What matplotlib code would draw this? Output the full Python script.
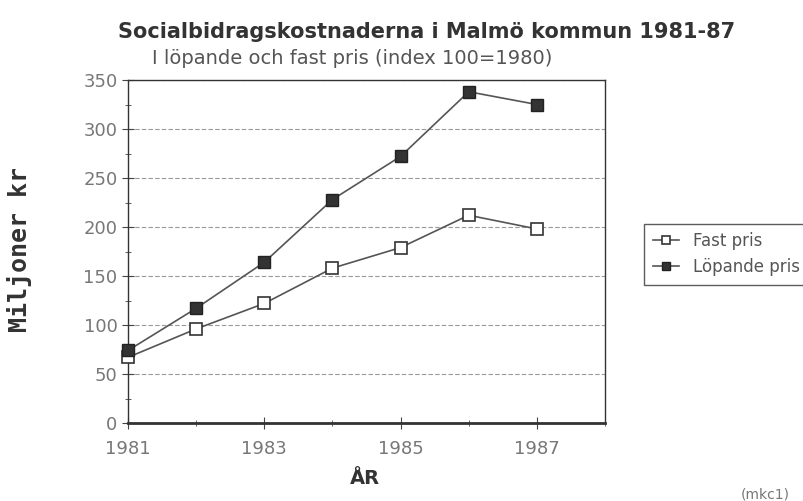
import matplotlib
matplotlib.use('Agg')
import matplotlib.pyplot as plt
from matplotlib.ticker import MultipleLocator

# Data (Miljoner kr)
years = [1981, 1982, 1983, 1984, 1985, 1986, 1987]
fast_pris = [67, 96, 122, 158, 179, 212, 198]
lopande_pris = [74, 117, 164, 228, 272, 338, 325]

fig = plt.figure(figsize=(8.04, 5.01), dpi=100)
ax = fig.add_axes([128 / 804, 1 - 423 / 501, (605 - 128) / 804, (423 - 80) / 501])

ax.plot(years, fast_pris, color='#555555', linewidth=1.2, marker='s', markersize=8,
        markerfacecolor='white', markeredgecolor='#333333', markeredgewidth=1.2,
        label='Fast pris', clip_on=False, zorder=3)
ax.plot(years, lopande_pris, color='#555555', linewidth=1.2, marker='s', markersize=8,
        markerfacecolor='#333333', markeredgecolor='#222222',
        label='Löpande pris', clip_on=False, zorder=4)

ax.set_xlim(1981, 1988)
ax.set_ylim(0, 350)
ax.set_xticks([1981, 1983, 1985, 1987])
ax.xaxis.set_minor_locator(MultipleLocator(1))
ax.yaxis.set_major_locator(MultipleLocator(50))
ax.yaxis.set_minor_locator(MultipleLocator(25))
ax.grid(axis='y', which='major', color='#999999', linestyle=(0, (4, 2)), linewidth=0.8)
ax.tick_params(axis='both', which='both', direction='inout', colors='#444444',
               labelcolor='#777777', labelsize=13)
ax.tick_params(axis='both', which='major', length=8)
ax.tick_params(axis='both', which='minor', length=5)
ax.tick_params(axis='x', which='major', pad=8)
for s in ax.spines.values():
    s.set_color('#333333')
    s.set_linewidth(1.0)
ax.spines['bottom'].set_linewidth(2)

fig.text(118 / 804, 1 - 32 / 501, 'Socialbidragskostnaderna i Malmö kommun 1981-87',
         fontsize=15, fontweight='bold', color='#333333', va='center', ha='left')
fig.text(352 / 804, 1 - 58 / 501, 'I löpande och fast pris (index 100=1980)',
         fontsize=14, color='#555555', va='center', ha='center')
fig.text(20 / 804, 1 - 250 / 501, 'Miljoner kr', rotation=90, fontsize=18, fontweight='bold',
         color='#333333', va='center', ha='center', family='DejaVu Sans Mono')
fig.text(365 / 804, 1 - 478 / 501, 'ÅR', fontsize=14, fontweight='bold', color='#333333',
         va='center', ha='center')
fig.text(765 / 804, 1 - 494 / 501, '(mkc1)', fontsize=10, color='#777777', va='center', ha='center')

leg = fig.legend(loc='center left', bbox_to_anchor=(636 / 804, 1 - 254 / 501), fontsize=12,
                 frameon=True, fancybox=False, edgecolor='#333333', labelcolor='#555555',
                 handlelength=1.6, markerscale=0.8, borderpad=0.5)
leg.get_frame().set_linewidth(1.0)

fig.savefig('out.png', dpi=100)
